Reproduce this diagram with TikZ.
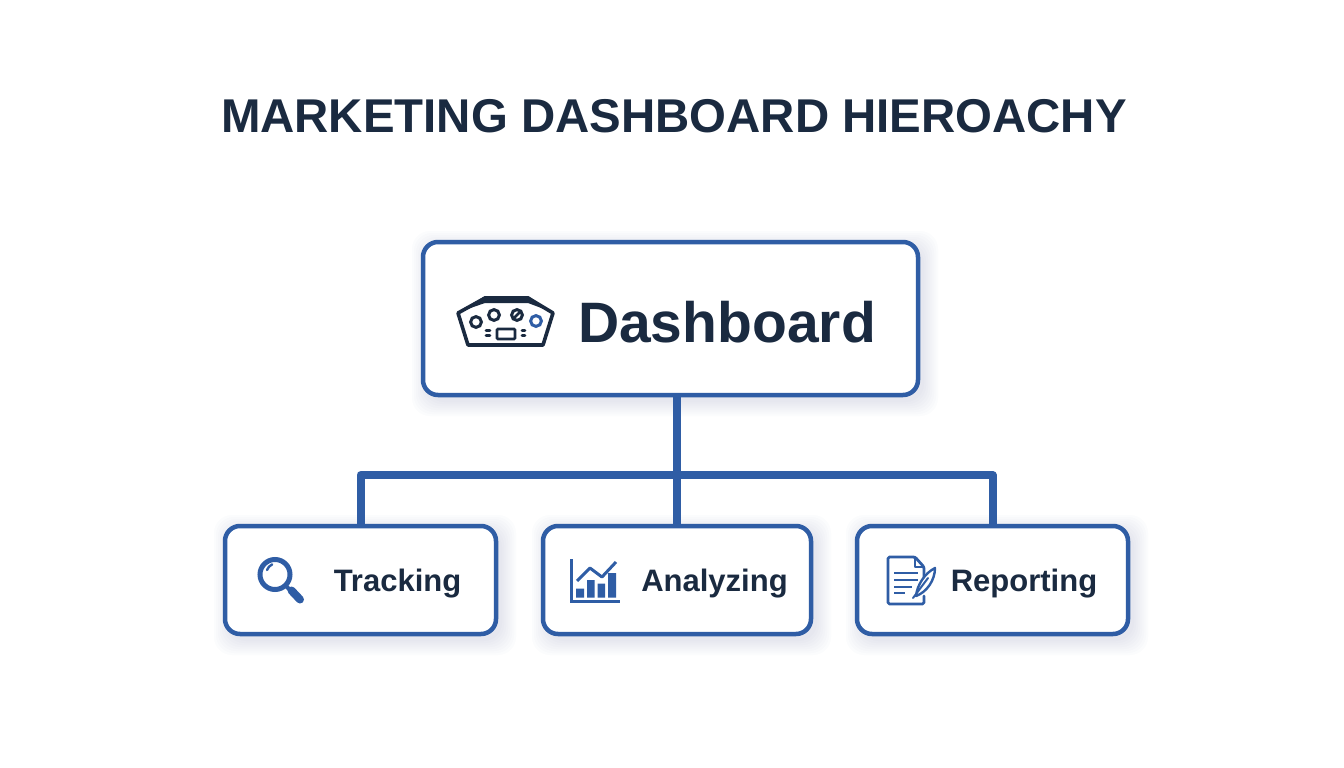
\documentclass[tikz,border=0pt]{standalone}
\usepackage{fontspec}
\setmainfont{Liberation Sans}
\definecolor{ink}{HTML}{1A2A40}
\definecolor{steel}{HTML}{2F5DA5}
\definecolor{shade}{HTML}{7F90B0}
\tikzset{
  card/.style={draw=steel,line width=4.5pt,rounded corners=15pt,fill=white,inner sep=0pt,outer sep=0pt},
  softshadow/.style={fill=shade,opacity=0.022,draw=none},
  link/.style={draw=steel,line width=8pt,line join=round},
  title/.style={text=ink,font=\bfseries\fontsize{47.4}{52}\selectfont,inner sep=0pt},
  bigtext/.style={text=ink,font=\bfseries\fontsize{57}{60}\selectfont,inner sep=0pt},
  smalltext/.style={text=ink,font=\bfseries\fontsize{31}{36}\selectfont,inner sep=0pt},
  darkline/.style={draw=ink,line width=3.6pt,line cap=round,line join=round},
  blueline/.style={draw=steel,line width=3pt,line cap=round,line join=round},
}
\newcommand{\softbox}[4]{%
  \foreach \g in {14,12,10,8,6,4,2,0}{%
    \fill[softshadow,rounded corners=18pt] ({#1-\g+3},{#2-\g+3}) rectangle ({#3+\g+6},{#4+\g+7});
  }}
\begin{document}
\begin{tikzpicture}[x=1pt,y=-1pt]
\useasboundingbox[fill=white] (0,0) rectangle (1344,768);
\softbox{423}{242}{918}{395}
\softbox{225}{526}{496}{634}
\softbox{543}{526}{811}{634}
\softbox{857}{526}{1128}{634}

\coordinate (bus) at (676,475);
\node[title,anchor=center] (ttl) at (674,116) {MARKETING DASHBOARD HIEROACHY};

\node[card,minimum width=495pt,minimum height=153pt] (dash) at (670.5,318.5) {};
\node[card,minimum width=271pt,minimum height=108pt] (trk) at (360.5,580) {};
\node[card,minimum width=268pt,minimum height=108pt] (ana) at (677,580) {};
\node[card,minimum width=271pt,minimum height=108pt] (rep) at (992.5,580) {};

\draw[link] (dash.south -| ana.north) -- (ana.north);
\draw[link] (trk.north) |- (bus) -| (rep.north);

\node[bigtext] (dashtext) at (727,322) {Dashboard};
\node[smalltext] (trktext) at (397.5,584) {Tracking};
\node[smalltext] (anatext) at (714.5,584) {Analyzing};
\node[smalltext] (reptext) at (1024,584) {Reporting};

% dashboard icon
\draw[darkline,fill=white] (458,313) -- (485,298) -- (528,298) -- (553,313) -- (543,345) -- (468,345) -- cycle;
\fill[ink] (459,312) -- (485,296) -- (528,296) -- (552,312) -- (528,303) -- (485,303) -- cycle;
\draw[ink,line width=3pt] (476,322) circle (5.4);
\draw[ink,line width=3pt] (494,315) circle (5.4);
\draw[ink,line width=3pt] (517,315) circle (5.4);
\draw[ink,line width=2.6pt] (513.5,318.5) -- (520.5,311.5);
\draw[steel,line width=3pt] (536,321) circle (5.4);
\draw[ink,line width=2.8pt,rounded corners=1pt] (497,329) rectangle (515,339);
\draw[darkline,line width=2.8pt] (486,330.5) -- (490,330.5) (486,335.5) -- (490,335.5) (522,330.5) -- (525,330.5) (522,335.5) -- (525,335.5);

% magnifier icon
\draw[steel,line width=5pt] (275,574.5) circle (15);
\draw[steel,line width=2.4pt,line cap=round] (267,570) arc (200:245:10);
\draw[steel,line width=4pt] (286,586) -- (291,591);
\draw[steel,line width=8pt,line cap=round] (291.5,590.5) -- (300,599.5);

% chart icon
\draw[steel,line width=3pt] (571,559) -- (571,601) -- (620,601);
\fill[steel] (576,588.5) rectangle (584,597.5)
             (587,580) rectangle (594.5,597.5)
             (597.5,583.5) rectangle (605,597.5)
             (608,573) rectangle (616,597.5);
\draw[steel,line width=3pt,line join=round] (577,581) -- (590,568) -- (602,577) -- (616,562);

% report icon
\draw[blueline,line width=2.8pt,rounded corners=1.5pt] (924,586) -- (924,567) -- (915,557) -- (888,557) -- (888,604) -- (924,604) -- (924,596);
\draw[blueline,line width=2.4pt] (915,557) -- (915,567) -- (924,567);
\draw[steel,line width=2.8pt] (894,573) -- (918,573) (894,580) -- (918,580) (894,587) -- (912,587) (894,593) -- (905,593);
\draw[steel,line width=2.4pt,line join=round,fill=white] (916,596) .. controls (917,585) and (925,573) .. (935,568) .. controls (935,580) and (927,592) .. (916,596) -- cycle;
\draw[steel,line width=2pt,line cap=round] (913,598) -- (928,578);
\end{tikzpicture}
\end{document}
